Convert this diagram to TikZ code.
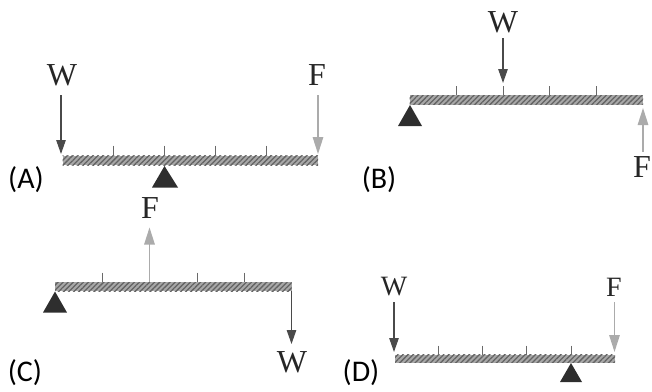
\documentclass[tikz,border=0pt]{standalone}
\usepackage{fontspec}
\setmainfont{Liberation Serif}
\newfontfamily\labelfont{Carlito}
\usetikzlibrary{arrows.meta,patterns.meta}
\definecolor{wcol}{HTML}{4A4A4A}
\definecolor{fcol}{HTML}{ABABAB}
\definecolor{beamcol}{HTML}{A8A8A8}
\definecolor{hatchcol}{HTML}{636363}
\definecolor{tickcol}{HTML}{6A6A6A}
\tikzset{
  beamnode/.style={inner sep=0pt,outer sep=0pt,draw=none,fill=beamcol,
    postaction={pattern={Lines[angle=45,distance=3.6pt,line width=1.3pt]},pattern color=hatchcol}},
  tickline/.style={draw=tickcol,line width=0.9pt},
  warrow/.style={draw=wcol,line width=1.1pt,-{Triangle[length=14pt,width=9.5pt,fill=wcol]}},
  farrow/.style={draw=fcol,line width=1.4pt,-{Triangle[length=17pt,width=10.5pt,fill=fcol]}},
  pivot/.style={fill=black!82,draw=none},
  forcetext/.style={inner sep=0pt,font=\fontsize{32}{32}\selectfont,text=black!85},
  forcesmall/.style={inner sep=0pt,font=\fontsize{28}{28}\selectfont,text=black!85},
  optlabel/.style={inner sep=0pt,font=\labelfont\fontsize{30}{30}\selectfont,text=black}
}
\newcommand{\beambar}[5]{% name, x1, x2, ytop, ybot
  \pgfmathsetmacro{\bw}{#3-#2}\pgfmathsetmacro{\bh}{#5-#4}
  \pgfmathsetmacro{\bx}{(#3+#2)/2}\pgfmathsetmacro{\by}{(#5+#4)/2}
  \node[beamnode,minimum width=\bw pt,minimum height=\bh pt] (#1) at (\bx,\by) {};
}
\begin{document}
\begin{tikzpicture}[x=1pt,y=-1pt]
\useasboundingbox (0,0) rectangle (652,391);
% A
\beambar{ba}{62.5}{318}{155.5}{165}
\foreach \x in {113,164.5,215,266} \draw[tickline] (\x,145.5) -- (\x,155.5);
\fill[pivot] (164.5,166) -- (178,187.5) -- (152,187.5) -- cycle;
\node[forcetext] (wa) at (62,75) {W};
\node[forcetext] (fa) at (317,75) {F};
\coordinate (wa1) at (61,95); \coordinate (wa2) at (61,154);
\coordinate (fa1) at (318,95); \coordinate (fa2) at (318,154);
\draw[warrow] (wa1) -- (wa2);
\draw[farrow] (fa1) -- (fa2);
\node[optlabel] (la) at (26,180) {(A)};
% B
\beambar{bb}{409.5}{643}{95}{104.5}
\foreach \x in {456,503,549.5,596} \draw[tickline] (\x,86) -- (\x,95);
\fill[pivot] (410,105) -- (422,126) -- (398,126) -- cycle;
\node[forcetext] (wb) at (503,22) {W};
\node[forcetext] (fb) at (642,167) {F};
\coordinate (wb1) at (503,38); \coordinate (wb2) at (503,83);
\coordinate (fb1) at (643,152); \coordinate (fb2) at (643,108);
\draw[warrow] (wb1) -- (wb2);
\draw[farrow] (fb1) -- (fb2);
\node[optlabel] (lb) at (379,180) {(B)};
% C
\beambar{bc}{55}{291.5}{282}{291}
\foreach \x in {102.5,149.5,197,244} \draw[tickline] (\x,272.5) -- (\x,282);
\fill[pivot] (55,291.5) -- (67,312.5) -- (43,312.5) -- cycle;
\node[forcetext] (fc) at (150,208) {F};
\node[forcetext] (wc) at (292,362) {W};
\coordinate (fc1) at (149.5,282); \coordinate (fc2) at (149.5,227.5);
\coordinate (wc1) at (291.5,291); \coordinate (wc2) at (291.5,344);
\draw[farrow] (fc1) -- (fc2);
\draw[warrow] (wc1) -- (wc2);
\node[optlabel] (lc) at (25,373) {(C)};
% D
\beambar{bd}{395}{615}{354.5}{362.5}
\foreach \x in {438.5,482.5,526.5,571} \draw[tickline] (\x,345.5) -- (\x,354.5);
\fill[pivot] (571,363) -- (582,382) -- (560,382) -- cycle;
\node[forcesmall] (wd) at (394,287) {W};
\node[forcesmall] (fd) at (614,287) {F};
\coordinate (wd1) at (394,302); \coordinate (wd2) at (394,352);
\coordinate (fd1) at (614.5,302); \coordinate (fd2) at (614.5,352);
\draw[warrow] (wd1) -- (wd2);
\draw[farrow] (fd1) -- (fd2);
\node[optlabel] (ld) at (361,373) {(D)};
\end{tikzpicture}
\end{document}
